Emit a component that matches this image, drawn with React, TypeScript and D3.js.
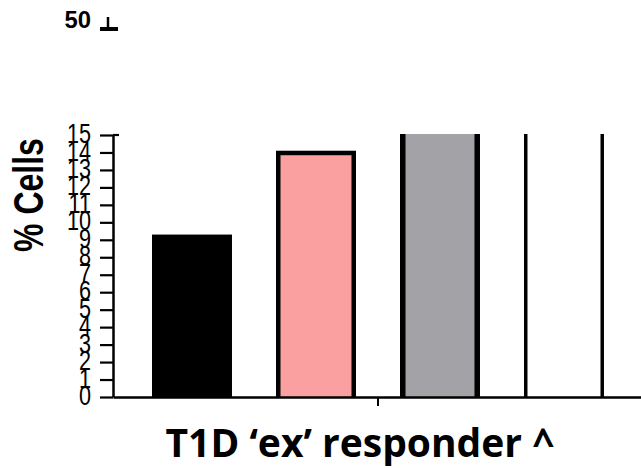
import React, { useEffect, useRef } from 'react';
import * as d3 from 'd3';

// bar groups (left to right), bars 3 and 4 run off the top of the axis
const groups = ['G1', 'G2', 'G3', 'G4', 'G5'];
const values = [9.3, 14.1, 22, 22];
const fills = ['#000000', '#FAA0A0', '#A3A2A6', '#FFFFFF'];
const strokeWidths = [0, 4.5, 5.5, 3.5];
const yTicks = d3.range(0, 16);
const upperTick = [50];
const groupLabel = ['T1D \u2018ex\u2019 responder ^'];

const W = 641;
const H = 468;

export default function App() {
    const svgRef = useRef(null);

    useEffect(() => {
        const svg = d3.select(svgRef.current);
        svg.selectAll('*').remove();

        const axisX = 113;
        const baseY = 397;
        const topY = 135;

        const y = d3.scaleLinear().domain([0, 15]).range([baseY, topY]);

        // step of 124px, first bar starts at 152
        const step = 124;
        const pIn = 0.355;
        const pOut = 0.3145;
        const x = d3.scaleBand()
            .domain(groups)
            .range([axisX, axisX + step * (groups.length - pIn + 2 * pOut)])
            .paddingInner(pIn)
            .paddingOuter(pOut);
        const bw = x.bandwidth();

        // clip for bars beyond the axis top; bottom stroke hidden under the axis
        svg.append('defs').append('clipPath')
            .attr('id', 'plotClip')
            .append('rect')
            .attr('x', axisX)
            .attr('y', topY - 1)
            .attr('width', W - axisX)
            .attr('height', baseY - topY + 1);

        // bars
        svg.append('g')
            .attr('clip-path', 'url(#plotClip)')
            .selectAll('rect')
            .data(values)
            .join('rect')
            .attr('x', (d, i) => x(groups[i]) + strokeWidths[i] / 2)
            .attr('y', (d, i) => y(d) + strokeWidths[i] / 2)
            .attr('width', (d, i) => bw - strokeWidths[i])
            .attr('height', (d, i) => baseY - y(d) + strokeWidths[i] / 2)
            .attr('fill', (d, i) => fills[i])
            .attr('stroke', '#000')
            .attr('stroke-width', (d, i) => strokeWidths[i]);

        // y axis
        const yAxis = svg.append('g')
            .attr('transform', `translate(${axisX},0)`)
            .call(d3.axisLeft(y).tickValues(yTicks).tickSize(13).tickSizeOuter(0).tickFormat(() => ''));
        yAxis.select('.domain').attr('stroke-width', 2.5);
        yAxis.selectAll('.tick line').attr('stroke-width', 2.2);
        // top cap reaches a bit right of the axis
        yAxis.append('line')
            .attr('x1', 0).attr('x2', 6)
            .attr('y1', y(15)).attr('y2', y(15))
            .attr('stroke', '#000').attr('stroke-width', 2.2);

        // stretched tick labels
        svg.append('g')
            .selectAll('text')
            .data(yTicks)
            .join('text')
            .attr('transform', (d) => `translate(91,${y(d) - 2}) scale(1.35,1.75)`)
            .attr('text-anchor', 'end')
            .attr('dominant-baseline', 'central')
            .style('font-family', 'Liberation Sans, Arial, sans-serif')
            .style('font-size', '16px')
            .text((d) => d);

        // x axis
        const xGroup = d3.scaleBand().domain(groupLabel).range([axisX, 643]);
        const xAxis = svg.append('g')
            .attr('transform', `translate(0,${baseY})`)
            .call(d3.axisBottom(xGroup).tickSize(9).tickSizeOuter(0).tickFormat(() => ''));
        xAxis.select('.domain').attr('stroke-width', 2.5);
        xAxis.selectAll('.tick line').attr('stroke-width', 2);

        // x axis title
        svg.append('text')
            .attr('x', 360)
            .attr('y', 457)
            .attr('text-anchor', 'middle')
            .style('font-family', 'Open Sans, sans-serif')
            .style('font-weight', 'bold')
            .style('font-size', '39px')
            .text(groupLabel[0]);

        // y axis title
        svg.append('text')
            .attr('transform', `translate(43,195) rotate(-90) scale(1,1.3)`)
            .attr('text-anchor', 'middle')
            .style('font-family', 'Liberation Sans, Arial, sans-serif')
            .style('font-weight', 'bold')
            .style('font-size', '32px')
            .text('% Cells');

        // upper axis segment (broken axis remnant)
        const yUp = d3.scaleLinear().domain([50, 52]).range([29, 17]);
        const up = svg.append('g').attr('transform', 'translate(108,0)');
        up.append('line')
            .attr('x1', 0).attr('x2', 0)
            .attr('y1', yUp(50)).attr('y2', yUp(52))
            .attr('stroke', '#000').attr('stroke-width', 2.5);
        up.selectAll('line.tk')
            .data(upperTick)
            .join('line')
            .attr('class', 'tk')
            .attr('x1', -8).attr('x2', 10)
            .attr('y1', (d) => yUp(d)).attr('y2', (d) => yUp(d))
            .attr('stroke', '#000').attr('stroke-width', 4);
        svg.selectAll('text.up')
            .data(upperTick)
            .join('text')
            .attr('class', 'up')
            .attr('transform', (d) => `translate(91,${yUp(d) - 10}) scale(1.7,1.7)`)
            .attr('text-anchor', 'end')
            .attr('dominant-baseline', 'central')
            .style('font-family', 'Liberation Sans, Arial, sans-serif')
            .style('font-weight', 'bold')
            .style('font-size', '14px')
            .text((d) => d);
    }, []);

    return (
        <svg
            ref={svgRef}
            width={W}
            height={H}
            style={{ position: 'absolute', left: 0, top: 0, background: '#fff' }}
        />
    );
}
